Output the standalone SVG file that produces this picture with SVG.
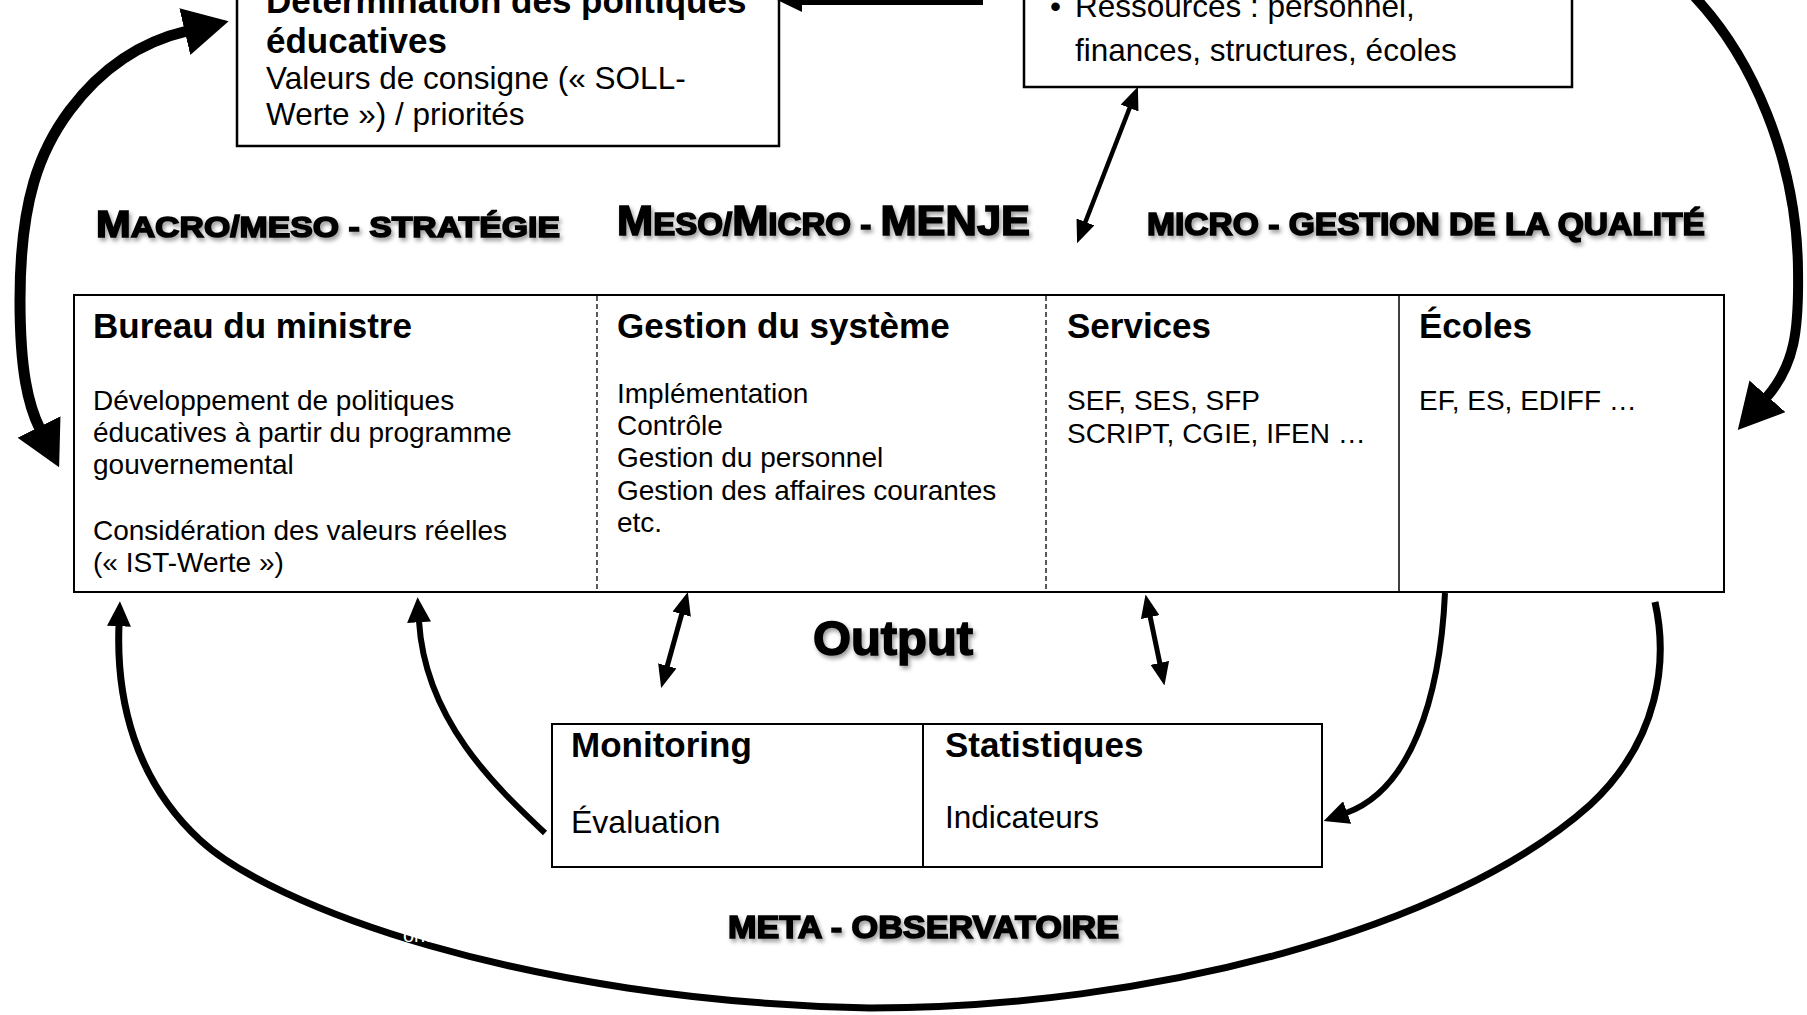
<svg xmlns="http://www.w3.org/2000/svg" width="1807" height="1015" viewBox="0 0 1807 1015">
<style>
text{font-family:"Liberation Sans",Arial,Helvetica,sans-serif;fill:#000}
.h{font-weight:bold;font-size:35px}
.b{font-size:28px}
.t{font-size:31.5px}
.lbl{font-weight:bold;stroke:#000;stroke-width:1.6;filter:url(#shadow)}
.box{fill:#fff;stroke:#000;stroke-width:2.5}
.frame{fill:#fff;stroke:#000;stroke-width:2}
.dash{stroke:#000;stroke-width:1.3;stroke-dasharray:5 3}
.solid{stroke:#000;stroke-width:1.5}
.con{fill:none;stroke:#000}
</style>
<defs>
<filter id="shadow" x="-10%" y="-30%" width="120%" height="170%">
<feDropShadow dx="2" dy="3" stdDeviation="2" flood-color="#000" flood-opacity="0.4"/>
</filter>
<marker id="big" viewBox="0 0 10 10" refX="0.5" refY="5" markerUnits="userSpaceOnUse" markerWidth="45" markerHeight="48" orient="auto-start-reverse" preserveAspectRatio="none"><path d="M0,0 L10,5 L0,10 z"/></marker>
<marker id="mid" viewBox="0 0 10 10" refX="0.5" refY="5" markerUnits="userSpaceOnUse" markerWidth="25" markerHeight="24" orient="auto-start-reverse" preserveAspectRatio="none"><path d="M0,0 L10,5 L0,10 z"/></marker>
<marker id="sm" viewBox="0 0 10 10" refX="0.5" refY="5" markerUnits="userSpaceOnUse" markerWidth="23" markerHeight="19" orient="auto-start-reverse" preserveAspectRatio="none"><path d="M0,0 L10,5 L0,10 z"/></marker>
</defs>
<rect x="0" y="0" width="1807" height="1015" fill="#fff"/>

<g id="determination">
<rect class="box" x="237" y="-60" width="542" height="206"/>
<text class="h" x="266" y="13">Détermination des politiques</text>
<text class="h" x="266" y="53">éducatives</text>
<text class="t" x="266" y="89">Valeurs de consigne (« SOLL-</text>
<text class="t" x="266" y="125">Werte ») / priorités</text>
</g>

<g id="ressources">
<rect class="box" x="1024" y="-60" width="548" height="147"/>
<text class="t" x="1050" y="17">•</text>
<text class="t" x="1075" y="17">Ressources : personnel,</text>
<text class="t" x="1075" y="61">finances, structures, écoles</text>
</g>

<g id="labels">
<text class="lbl" x="96" y="237" textLength="464" lengthAdjust="spacingAndGlyphs"><tspan font-size="37">M</tspan><tspan font-size="30">ACRO/MESO - STRATÉGIE</tspan></text>
<text class="lbl" x="617" y="235" textLength="413" lengthAdjust="spacingAndGlyphs"><tspan font-size="42">M</tspan><tspan font-size="32">ESO/</tspan><tspan font-size="42">M</tspan><tspan font-size="32">ICRO - </tspan><tspan font-size="42">MENJE</tspan></text>
<text class="lbl" x="1147" y="235" font-size="31" textLength="558" lengthAdjust="spacingAndGlyphs">MICRO - GESTION DE LA QUALITÉ</text>
<text class="lbl" x="813" y="655" font-size="49" textLength="160" lengthAdjust="spacingAndGlyphs">Output</text>
<text class="lbl" x="728" y="938" font-size="32" textLength="391" lengthAdjust="spacingAndGlyphs">META - OBSERVATOIRE</text>
</g>

<g id="table">
<rect class="frame" x="74" y="295" width="1650" height="297"/>
<line class="dash" x1="597" y1="296" x2="597" y2="591"/>
<line class="dash" x1="1046" y1="296" x2="1046" y2="591"/>
<line class="solid" x1="1399" y1="296" x2="1399" y2="591"/>
</g>

<g id="bureau">
<text class="h" x="93" y="338">Bureau du ministre</text>
<text class="b" x="93" y="410">Développement de politiques</text>
<text class="b" x="93" y="442">éducatives à partir du programme</text>
<text class="b" x="93" y="474">gouvernemental</text>
<text class="b" x="93" y="540">Considération des valeurs réelles</text>
<text class="b" x="93" y="572">(« IST-Werte »)</text>
</g>

<g id="gestion">
<text class="h" x="617" y="338">Gestion du système</text>
<text class="b" x="617" y="403">Implémentation</text>
<text class="b" x="617" y="435">Contrôle</text>
<text class="b" x="617" y="467">Gestion du personnel</text>
<text class="b" x="617" y="500">Gestion des affaires courantes</text>
<text class="b" x="617" y="532">etc.</text>
</g>

<g id="services">
<text class="h" x="1067" y="338">Services</text>
<text class="b" x="1067" y="410">SEF, SES, SFP</text>
<text class="b" x="1067" y="443">SCRIPT, CGIE, IFEN …</text>
</g>

<g id="ecoles">
<text class="h" x="1419" y="338">Écoles</text>
<text class="b" x="1419" y="410">EF, ES, EDIFF …</text>
</g>

<g id="monitoring">
<rect class="frame" x="552" y="724" width="371" height="143"/>
<text class="h" x="571" y="757">Monitoring</text>
<text x="571" y="833" font-size="32">Évaluation</text>
</g>

<g id="statistiques">
<rect class="frame" x="923" y="724" width="399" height="143"/>
<text class="h" x="945" y="757">Statistiques</text>
<text class="t" x="945" y="828">Indicateurs</text>
</g>

<g id="connectors">
<path class="con" stroke-width="10" d="M983,0 L801,0" marker-end="url(#mid)"/>
<path class="con" stroke-width="11" d="M40,429 C28,405 20,370 20,300 C20,200 40,150 70,110 C100,70 140,42 187,31" marker-start="url(#big)" marker-end="url(#big)"/>
<path class="con" stroke-width="10" d="M1690,-8 C1752,55 1797,160 1798,270 C1799,330 1795,365 1766,398" marker-end="url(#big)"/>
<path class="con" stroke-width="7" d="M1655,602 C1668,660 1660,740 1590,805 C1450,930 1150,1008 870,1008 C520,1001 270,905 200,840 C135,780 116,700 119,625" marker-end="url(#mid)"/>
<path class="con" stroke-width="6" d="M545,833 C495,786 425,720 419,621" marker-end="url(#mid)"/>
<path class="con" stroke-width="6" d="M1445,593 C1440,700 1410,790 1346,813" marker-end="url(#mid)"/>
<path class="con" stroke-width="5" d="M682,613 L667,667" marker-start="url(#sm)" marker-end="url(#sm)"/>
<path class="con" stroke-width="5" d="M1150,616 L1160,664" marker-start="url(#sm)" marker-end="url(#sm)"/>
<path class="con" stroke-width="4.5" d="M1130,107 L1085,223" marker-start="url(#sm)" marker-end="url(#sm)"/>
</g>

<g id="hidden-text">
<text x="403" y="942" font-size="20" style="fill:#fff">onso</text>
</g>
</svg>
